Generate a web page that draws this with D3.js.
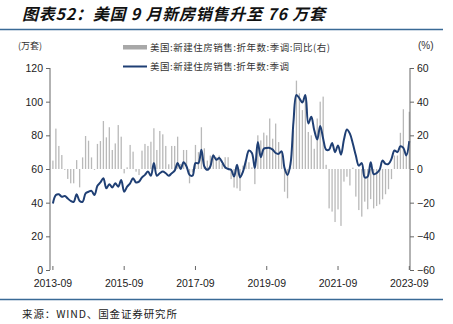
<!DOCTYPE html>
<html><head><meta charset="utf-8">
<script src="https://cdn.jsdelivr.net/npm/d3@7"></script>
<style>
html,body{margin:0;padding:0;background:#fff;}
svg{display:block;}
</style></head>
<body>
<svg id="c" width="453" height="324"></svg>
<script>
const titleText = "图表52：美国 9 月新房销售升至 76 万套";
const sourceText = "来源：WIND、国金证券研究所";
const legendBar = "美国:新建住房销售:折年数:季调:同比(右)";
const legendLine = "美国:新建住房销售:折年数:季调";
const xTickLabels = ["2013-09","2015-09","2017-09","2019-09","2021-09","2023-09"];
const leftTicks = [0,20,40,60,80,100,120];
const rightTicks = [-60,-40,-20,0,20,40,60];

// monthly, 2013-09 .. 2023-09 (万套, SAAR)
const salesLevel = [
 39.5,44.5,45,43.5,44,42.5,41,40.5,45,41,40.5,45.5,
 46.5,47,44.5,50,52,54.5,48.5,51,49,51.5,49.5,53.5,
 46.5,49.5,51.5,54.5,52,52.5,55,56.5,58.5,56,63.5,56,
 57.5,58.5,57.5,56,57.5,59,63.5,60,64,61.5,56.5,56,
 63.5,63.5,71.5,61.5,59.5,61.5,68,65.5,66.5,64,61,60,
 59.5,55.5,62.5,55,58.5,65,71,69.5,60.5,76,67,72,
 72.5,72.5,71.5,69.5,69,70.5,60.5,56.5,63,88,104,102,
 99.5,104,87,91,83,77.5,85.5,78,71.5,71.5,75.5,70,
 74,68.5,77.5,83.5,81,75,68,62,63.5,55,55.5,64,
 57,57.5,59.5,65,63,63,66,71,70,73.5,72.5,68,
 76.5
];
// YoY %, right axis
const salesYoY = [
 5,24,13.7,8.3,-0.5,-5.9,-8.5,-8.5,5.3,-10.9,6.9,19.6,
 16.8,6.9,-0.5,14.9,16.6,28.5,18.8,24.8,11.3,15.2,26.1,19.2,
 -2.6,1,14.3,10.3,-1.6,-3.6,10.9,14.9,13.7,16.2,24.2,11.3,
 22.6,20.6,13.7,2.8,13.7,13.7,19.2,3,11.3,11.3,-8.5,-2,
 14.3,10,24.8,12.3,5,8,9,7,8,3,7,7,
 -6,-11,-11.5,-13,2,5,4,1,-9,20,17,21.6,
 20,30,18,27,16,10,-13.5,-17.4,4,23,52.5,45,
 35,42,22,20,12,30,40,43,2.5,-23.4,-25.3,-31.5,
 -24,-33.8,-7.5,-4.6,-9.8,0.8,-16.4,-24.4,-28.3,-19.4,-23.9,-17.9,
 -23.4,-22,-21,-18,-15,-12,-6,8,8,21.5,35.5,8,
 34
];

const months = salesLevel.map((_, i) => {
  const d = new Date(2013, 8 + i, 1);
  return d3.timeFormat("%Y-%m")(d);
});

const svg = d3.select("#c");
const axisFont = "'Liberation Sans', Arial, sans-serif";
const cjkFont = "'Noto Sans CJK SC', sans-serif";

const x = d3.scalePoint().domain(months).range([52.9, 409.3]);
const yL = d3.scaleLinear().domain([0,120]).range([270,68]);
const yR = d3.scaleLinear().domain([-60,60]).range([270,68]);

// title
svg.append("text").attr("x",22).attr("y",20)
  .attr("font-family",cjkFont).attr("font-size",16).attr("font-weight","bold")
  .attr("font-style","italic").attr("fill","#111")
  .attr("textLength",303).attr("lengthAdjust","spacing").text(titleText);
svg.append("line").attr("x1",0).attr("x2",443).attr("y1",29.5).attr("y2",29.5)
  .attr("stroke","#3a6a96").attr("stroke-width",1.6);

// bars
const bw = 1.3;
svg.append("g").selectAll("rect").data(salesYoY).join("rect")
  .attr("x",(d,i)=>x(months[i]) - bw/2)
  .attr("y",d=>Math.min(yR(d),yR(0)))
  .attr("width",bw)
  .attr("height",d=>Math.abs(yR(d)-yR(0)))
  .attr("fill","#b9b9b9");

// line
const line = d3.line().x((d,i)=>x(months[i])).y(d=>yL(d)).curve(d3.curveCatmullRom.alpha(0.5));
svg.append("path").datum(salesLevel).attr("d",line)
  .attr("fill","none").attr("stroke","#1f3f74").attr("stroke-width",2);

// left axis
const gL = svg.append("g").attr("transform","translate(50,0)")
  .call(d3.axisLeft(yL).tickValues(leftTicks).tickSize(4).tickPadding(3));
// right axis
const gR = svg.append("g").attr("transform","translate(410,0)")
  .call(d3.axisRight(yR).tickValues(rightTicks).tickSize(4).tickPadding(3));
[gL,gR].forEach(g=>{
  g.select(".domain").attr("stroke","#666").attr("d","M0,68V270");
  g.selectAll(".tick line").attr("stroke","#666");
  g.selectAll("text").attr("font-family",axisFont).attr("font-size",10.5).attr("fill","#222");
});

// x axis labels
const xIdx = [0,24,48,72,96,120];
const gX = svg.append("g");
gX.selectAll("line").data(xIdx).join("line")
  .attr("x1",d=>x(months[d])).attr("x2",d=>x(months[d]))
  .attr("y1",270).attr("y2",266).attr("stroke","#666");
gX.selectAll("text").data(xTickLabels).join("text")
  .attr("x",(d,i)=>x(months[xIdx[i]])).attr("y",287)
  .attr("text-anchor","middle").attr("font-family",axisFont).attr("font-size",10.5)
  .attr("fill","#222").text(d=>d);

// unit labels
svg.append("text").attr("x",18).attr("y",49).attr("font-family",cjkFont)
  .attr("font-size",9).attr("fill","#333").text("(万套)");
svg.append("text").attr("x",418).attr("y",49).attr("font-family",axisFont)
  .attr("font-size",10).attr("fill","#333").text("(%)");

// legend
svg.append("rect").attr("x",123).attr("y",45).attr("width",24).attr("height",4.5).attr("fill","#a8a8a8");
svg.append("text").attr("x",150).attr("y",50.5).attr("font-family",cjkFont)
  .attr("font-size",9.5).attr("fill","#333")
  .attr("textLength",180).attr("lengthAdjust","spacing").text(legendBar);
svg.append("line").attr("x1",123).attr("x2",147).attr("y1",66.5).attr("y2",66.5)
  .attr("stroke","#1f3f74").attr("stroke-width",2);
svg.append("text").attr("x",150).attr("y",70).attr("font-family",cjkFont)
  .attr("font-size",9.5).attr("fill","#333")
  .attr("textLength",139).attr("lengthAdjust","spacing").text(legendLine);

// bottom rule and source
svg.append("line").attr("x1",0).attr("x2",443).attr("y1",299.5).attr("y2",299.5)
  .attr("stroke","#3a6a96").attr("stroke-width",1.6);
svg.append("text").attr("x",22).attr("y",318).attr("font-family",cjkFont)
  .attr("font-size",10.5).attr("fill","#222")
  .attr("textLength",155).attr("lengthAdjust","spacing").text(sourceText);
</script>
</body></html>
